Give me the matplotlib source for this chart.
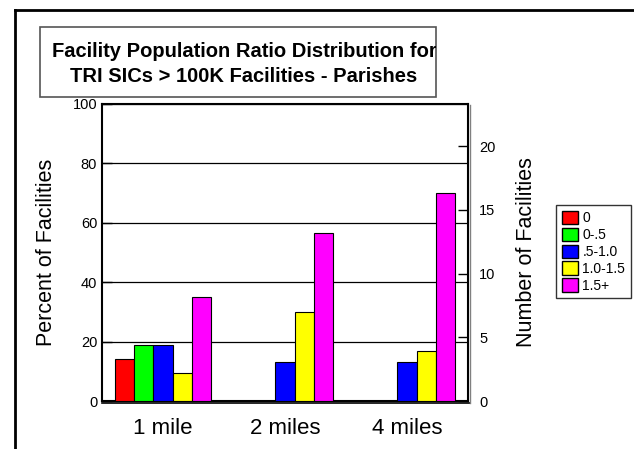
import matplotlib.pyplot as plt
import numpy as np
from matplotlib.lines import Line2D
from matplotlib.patches import Rectangle, Patch

plt.rcParams['font.family'] = ['Liberation Sans', 'DejaVu Sans']

categories = ['1 mile', '2 miles', '4 miles']
series = ['0', '0-.5', '.5-1.0', '1.0-1.5', '1.5+']
colors = ['#ff0000', '#00ff00', '#0000ff', '#ffff00', '#ff00ff']
values = [
    [14, 0, 0],      # 0
    [19, 0, 0],      # 0-.5
    [19, 13, 13],    # .5-1.0
    [9.5, 30, 17],   # 1.0-1.5
    [35, 56.5, 70],  # 1.5+
]

fig = plt.figure(figsize=(6.34, 4.49), dpi=100)
ax = fig.add_axes([0.1609, 0.1069, 0.5773, 0.6615])

x = np.arange(len(categories)) + 0.5
w = 0.157
for i, (s, c) in enumerate(zip(series, colors)):
    vals = np.array(values[i], dtype=float)
    mask = vals > 0
    ax.bar(x[mask] + (i - 2) * w, vals[mask], width=w, color=c,
           edgecolor='black', linewidth=0.8, label=s, zorder=3)

ax.set_xlim(0, 3)
ax.set_ylim(0, 100)
ax.set_yticks([0, 20, 40, 60, 80, 100])
ax.set_xticks(x)
ax.set_xticklabels(categories, fontsize=16)
ax.tick_params(axis='x', direction='in', length=7, width=1, pad=12)
ax.tick_params(axis='y', direction='in', labelsize=10.5, length=7, width=1)
ax.grid(axis='y', color='black', linewidth=0.9, zorder=1)
ax.set_ylabel('Percent of Facilities', fontsize=15.5, labelpad=11)
for sp in ax.spines.values():
    sp.set_linewidth(1.5)

ax2 = ax.twinx()
ax2.set_ylim(0, 23.3)
ax2.set_yticks([0, 5, 10, 15, 20])
ax2.tick_params(axis='y', direction='in', labelsize=10.5, length=7, width=1, pad=8)
ax2.set_ylabel('Number of Facilities', fontsize=15.5, labelpad=15)
for sp in ax2.spines.values():
    sp.set_visible(False)

# shadow lines at bottom/right of plot area
fig.add_artist(Line2D([0.161, 0.742], [0.1025, 0.1025], color='black', lw=1.2))
fig.add_artist(Line2D([0.742, 0.742], [0.1025, 0.766], color='gray', lw=1.0))

# title box
box = Rectangle((0.0631, 0.784), 0.6246, 0.156, transform=fig.transFigure,
                facecolor='white', edgecolor='#555555', lw=1.2)
fig.add_artist(box)
t1 = fig.text(0.385, 0.8737, 'Facility Population Ratio Distribution for', ha='center',
              va='baseline', fontsize=14.5, fontweight='bold')
t2 = fig.text(0.385, 0.8167, 'TRI SICs > 100K Facilities - Parishes', ha='center',
              va='baseline', fontsize=14.5, fontweight='bold')
for t in (t1, t2):
    t.set_clip_path(box)

# outer frame
fig.add_artist(Line2D([0.0235, 0.0235], [0.0, 0.977], color='black', lw=2))
fig.add_artist(Line2D([0.0235, 1.0], [0.977, 0.977], color='black', lw=2))

handles = [Patch(facecolor=c, edgecolor='black', label=s) for s, c in zip(series, colors)]
fig.legend(handles=handles, loc='upper left', bbox_to_anchor=(0.877, 0.543),
           fontsize=10, frameon=True, fancybox=False, edgecolor='black',
           handlelength=1.2, handleheight=1.1, handletextpad=0.3,
           labelspacing=0.18, borderpad=0.4, borderaxespad=0)

fig.savefig('out.png', dpi=100)
